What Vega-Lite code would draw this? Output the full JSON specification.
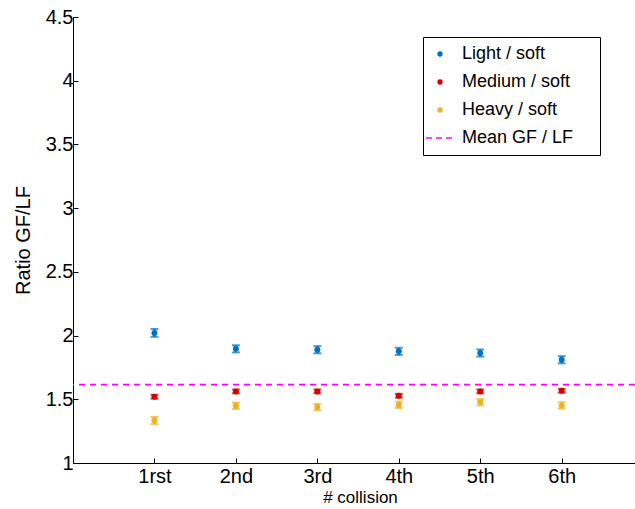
{
  "$schema": "https://vega.github.io/schema/vega-lite/v6.json",
  "width": 562,
  "height": 446,
  "autosize": {"type": "none"},
  "padding": {"left": 73, "top": 17, "right": 0, "bottom": 46},
  "config": {
    "view": {"stroke": null},
    "font": "Liberation Sans",
    "axis": {
      "domainColor": "#000000",
      "tickColor": "#000000",
      "labelColor": "#000000",
      "titleColor": "#000000",
      "grid": false,
      "labelFont": "Liberation Sans",
      "titleFont": "Liberation Sans",
      "titleFontWeight": "normal",
      "domainWidth": 1,
      "tickWidth": 1
    }
  },
  "datasets": {
    "ratios": [
      {"collision": 1, "series": "Light / soft", "ratio": 2.020, "lo": 1.990, "hi": 2.052},
      {"collision": 1, "series": "Medium / soft", "ratio": 1.520, "lo": 1.505, "hi": 1.535},
      {"collision": 1, "series": "Heavy / soft", "ratio": 1.333, "lo": 1.305, "hi": 1.361},
      {"collision": 2, "series": "Light / soft", "ratio": 1.896, "lo": 1.868, "hi": 1.924},
      {"collision": 2, "series": "Medium / soft", "ratio": 1.562, "lo": 1.547, "hi": 1.577},
      {"collision": 2, "series": "Heavy / soft", "ratio": 1.449, "lo": 1.424, "hi": 1.474},
      {"collision": 3, "series": "Light / soft", "ratio": 1.889, "lo": 1.861, "hi": 1.917},
      {"collision": 3, "series": "Medium / soft", "ratio": 1.562, "lo": 1.547, "hi": 1.577},
      {"collision": 3, "series": "Heavy / soft", "ratio": 1.439, "lo": 1.414, "hi": 1.464},
      {"collision": 4, "series": "Light / soft", "ratio": 1.876, "lo": 1.848, "hi": 1.904},
      {"collision": 4, "series": "Medium / soft", "ratio": 1.528, "lo": 1.513, "hi": 1.543},
      {"collision": 4, "series": "Heavy / soft", "ratio": 1.457, "lo": 1.432, "hi": 1.482},
      {"collision": 5, "series": "Light / soft", "ratio": 1.863, "lo": 1.835, "hi": 1.891},
      {"collision": 5, "series": "Medium / soft", "ratio": 1.562, "lo": 1.547, "hi": 1.577},
      {"collision": 5, "series": "Heavy / soft", "ratio": 1.478, "lo": 1.453, "hi": 1.503},
      {"collision": 6, "series": "Light / soft", "ratio": 1.810, "lo": 1.782, "hi": 1.838},
      {"collision": 6, "series": "Medium / soft", "ratio": 1.567, "lo": 1.552, "hi": 1.582},
      {"collision": 6, "series": "Heavy / soft", "ratio": 1.452, "lo": 1.427, "hi": 1.477}
    ],
    "mean": [{"series": "Mean GF / LF", "ratio": 1.615}]
  },
  "encoding": {
    "x": {
      "field": "collision",
      "type": "quantitative",
      "scale": {"domain": [0, 6.9], "nice": false, "zero": false},
      "axis": {
        "values": [1, 2, 3, 4, 5, 6],
        "labelExpr": "['', '1rst', '2nd', '3rd', '4th', '5th', '6th'][datum.value]",
        "title": "# collision",
        "titleFontSize": 17,
        "titlePadding": 3,
        "titleX": 287,
        "labelFontSize": 20,
        "tickSize": -5,
        "labelPadding": 8
      }
    },
    "y": {
      "field": "ratio",
      "type": "quantitative",
      "scale": {"domain": [1, 4.5], "nice": false, "zero": false},
      "axis": {
        "values": [1, 1.5, 2, 2.5, 3, 3.5, 4, 4.5],
        "format": "~g",
        "title": "Ratio GF/LF",
        "titleFontSize": 20,
        "titlePadding": 12,
        "labelFontSize": 20,
        "tickSize": -5,
        "labelPadding": 5
      }
    },
    "color": {
      "field": "series",
      "type": "nominal",
      "scale": {
        "domain": ["Light / soft", "Medium / soft", "Heavy / soft", "Mean GF / LF"],
        "range": ["#0072BD", "#D40000", "#EDB120", "#FF00FF"]
      },
      "legend": {
        "title": null,
        "orient": "none",
        "legendX": 350,
        "legendY": 20,
        "padding": 8,
        "strokeColor": "#000000",
        "fillColor": "#FFFFFF",
        "labelFont": "Liberation Sans",
        "labelFontSize": 18,
        "labelColor": "#000000",
        "labelOffset": 13,
        "symbolSize": 784,
        "rowPadding": 10,
        "labelExpr": "datum.label + '\u2003\u2060'",
        "encode": {
          "symbols": {
            "update": {
              "shape": {"signal": "datum.value === 'Mean GF / LF' ? 'stroke' : 'circle'"},
              "size": {"signal": "datum.value === 'Mean GF / LF' ? 784 : 28"},
              "fill": {"signal": "datum.value === 'Mean GF / LF' ? 'transparent' : scale('color', datum.value)"},
              "stroke": {"signal": "scale('color', datum.value)"},
              "strokeWidth": {"signal": "datum.value === 'Mean GF / LF' ? 1.5 : 0"},
              "strokeDash": {"signal": "datum.value === 'Mean GF / LF' ? [6, 4] : []"},
              "opacity": {"value": 1}
            }
          }
        }
      }
    }
  },
  "layer": [
    {
      "data": {"name": "mean"},
      "mark": {"type": "rule", "strokeDash": [6, 5], "strokeWidth": 1.6},
      "encoding": {"x": null}
    },
    {
      "data": {"name": "ratios"},
      "mark": {"type": "rule", "strokeWidth": 2},
      "encoding": {"y": {"field": "lo", "type": "quantitative"}, "y2": {"field": "hi"}}
    },
    {
      "data": {"name": "ratios"},
      "mark": {"type": "tick", "orient": "horizontal", "size": 8, "thickness": 2},
      "encoding": {"y": {"field": "lo", "type": "quantitative"}}
    },
    {
      "data": {"name": "ratios"},
      "mark": {"type": "tick", "orient": "horizontal", "size": 8, "thickness": 2},
      "encoding": {"y": {"field": "hi", "type": "quantitative"}}
    },
    {
      "data": {"name": "ratios"},
      "mark": {"type": "point", "filled": true, "shape": "circle", "size": 36, "opacity": 1}
    }
  ]
}
